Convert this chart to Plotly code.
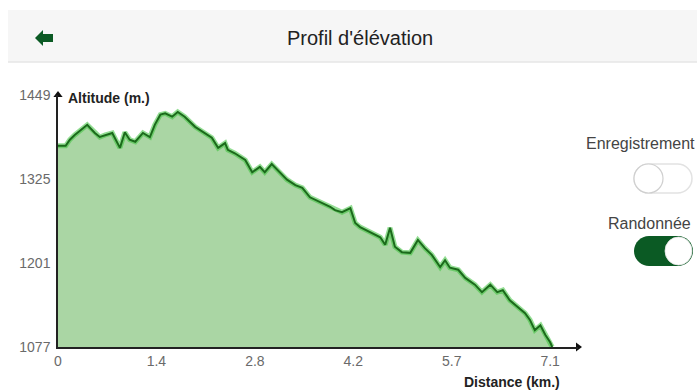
import plotly.graph_objects as go

# Elevation profile of the hike (distance in km, altitude in m)
distance_km = [
    0.00, 0.11, 0.17, 0.24, 0.42, 0.53, 0.60, 0.68, 0.78, 0.89,
    0.96, 1.03, 1.11, 1.22, 1.32, 1.39, 1.47, 1.54, 1.64, 1.72,
    1.82, 1.97, 2.11, 2.21, 2.30, 2.40, 2.44, 2.54, 2.69, 2.79,
    2.90, 2.97, 3.07, 3.19, 3.29, 3.41, 3.51, 3.62, 3.76, 3.91,
    3.98, 4.08, 4.20, 4.27, 4.34, 4.48, 4.63, 4.70, 4.77, 4.84,
    4.94, 5.06, 5.17, 5.27, 5.37, 5.49, 5.56, 5.63, 5.75, 5.85,
    5.99, 6.09, 6.21, 6.31, 6.39, 6.49, 6.61, 6.71, 6.78, 6.85,
    6.93, 7.00, 7.07, 7.10,
]
altitude_m = [
    1374, 1374, 1383, 1390, 1405, 1393, 1387, 1390, 1393, 1371,
    1394, 1383, 1380, 1393, 1387, 1405, 1420, 1422, 1417, 1424,
    1417, 1402, 1393, 1386, 1371, 1378, 1368, 1363, 1353, 1335,
    1343, 1335, 1347, 1335, 1324, 1316, 1312, 1298, 1291, 1284,
    1279, 1276, 1282, 1260, 1254, 1247, 1239, 1228, 1253, 1225,
    1217, 1216, 1235, 1223, 1213, 1195, 1205, 1194, 1191, 1179,
    1169, 1158, 1169, 1158, 1161, 1146, 1136, 1127, 1117, 1102,
    1109, 1095, 1084, 1077,
]

total_km = 7.07
x_tick_labels = ["0", "1.4", "2.8", "4.2", "5.7", "7.1"]
y_tick_values = [1077, 1201, 1325, 1449]
y_tick_labels = ["1077", "1201", "1325", "1449"]

X_MAX = 7.47  # axis extends a little past the end of the trace (arrow)
Y_MIN, Y_MAX = 1077, 1449

W, H = 697, 390
ML, MR, MT, MB = 58, 119, 95, 43
PW, PH = W - ML - MR, H - MT - MB

FONT = "Liberation Sans, Arial, Helvetica, sans-serif"
GREEN_DARK = "#0b5a24"


def px(x):
    return (x - ML) / PW


def py(y):
    return (H - MB - y) / PH


def pill_path(x0, y0, x1, y1):
    r = (y1 - y0) / 2
    k = 0.5523 * r
    cy = (y0 + y1) / 2
    pts = [
        ("M", [(x0 + r, y0)]),
        ("L", [(x1 - r, y0)]),
        ("C", [(x1 - r + k, y0), (x1, cy - k), (x1, cy)]),
        ("C", [(x1, cy + k), (x1 - r + k, y1), (x1 - r, y1)]),
        ("L", [(x0 + r, y1)]),
        ("C", [(x0 + r - k, y1), (x0, cy + k), (x0, cy)]),
        ("C", [(x0, cy - k), (x0 + r - k, y0), (x0 + r, y0)]),
    ]
    s = ""
    for cmd, ps in pts:
        s += cmd + " " + " ".join(f"{px(a):.5f},{py(b):.5f}" for a, b in ps) + " "
    return s + "Z"


fig = go.Figure()

# filled area under the profile
fig.add_trace(go.Scatter(
    x=distance_km, y=altitude_m, mode="lines", fill="tozeroy",
    fillcolor="#aad6a4", line=dict(width=0), hoverinfo="skip", showlegend=False,
))
# glow + dark core of the profile line
fig.add_trace(go.Scatter(
    x=distance_km, y=altitude_m, mode="lines",
    line=dict(color="rgba(60,195,60,0.55)", width=5), hoverinfo="skip", showlegend=False,
))
fig.add_trace(go.Scatter(
    x=distance_km, y=altitude_m, mode="lines",
    line=dict(color="#1b6a1b", width=2), showlegend=False,
))
# axis arrowheads
fig.add_trace(go.Scatter(
    x=[0], y=[Y_MAX], mode="markers", cliponaxis=False,
    marker=dict(symbol="triangle-up", size=8, color="#111"), hoverinfo="skip", showlegend=False,
))
fig.add_trace(go.Scatter(
    x=[X_MAX], y=[Y_MIN], mode="markers", cliponaxis=False,
    marker=dict(symbol="triangle-right", size=8, color="#111"), hoverinfo="skip", showlegend=False,
))

shapes = [
    # header bar
    dict(type="rect", xref="paper", yref="paper",
         x0=px(8), x1=px(697), y0=py(62), y1=py(10),
         fillcolor="#f6f6f6", line=dict(width=0), layer="below"),
    dict(type="line", xref="paper", yref="paper",
         x0=px(8), x1=px(697), y0=py(62), y1=py(62),
         line=dict(color="#e6e6e6", width=1.5)),
    # back arrow
    dict(type="path", xref="paper", yref="paper",
         path=(f"M {px(35)},{py(38)} L {px(43)},{py(30)} L {px(43)},{py(34)} "
               f"L {px(53)},{py(34)} L {px(53)},{py(42)} L {px(43)},{py(42)} "
               f"L {px(43)},{py(46)} Z"),
         fillcolor=GREEN_DARK, line=dict(width=0)),
    # toggle "Enregistrement" (off)
    dict(type="path", xref="paper", yref="paper", path=pill_path(634, 164, 692, 193),
         fillcolor="#ffffff", line=dict(color="#e2e2e2", width=1.5)),
    dict(type="circle", xref="paper", yref="paper",
         x0=px(634), x1=px(663), y0=py(193), y1=py(164),
         fillcolor="#ffffff", line=dict(color="#cfcfcf", width=1.2)),
    # toggle "Randonnée" (on)
    dict(type="path", xref="paper", yref="paper", path=pill_path(634, 236, 693, 266),
         fillcolor=GREEN_DARK, line=dict(width=0)),
    dict(type="circle", xref="paper", yref="paper",
         x0=px(665), x1=px(692), y0=py(265), y1=py(237),
         fillcolor="#ffffff", line=dict(color="#e8e8e8", width=0.8)),
]

annotations = [
    dict(text="Profil d'élévation", x=px(360), y=py(38), xref="paper", yref="paper",
         xanchor="center", yanchor="middle", showarrow=False,
         font=dict(family=FONT, size=20, color="#222")),
    dict(text="Altitude (m.)", x=px(66), y=py(98), xref="paper", yref="paper",
         xanchor="left", yanchor="middle", showarrow=False,
         font=dict(family=FONT, size=14, color="#222", weight="bold")),
    dict(text="Distance (km.)", x=px(562), y=py(382), xref="paper", yref="paper",
         xanchor="right", yanchor="middle", showarrow=False,
         font=dict(family=FONT, size=14, color="#222", weight="bold")),
    dict(text="Enregistrement", x=px(697), y=py(143), xref="paper", yref="paper",
         xanchor="right", yanchor="middle", showarrow=False,
         font=dict(family=FONT, size=16, color="#444")),
    dict(text="Randonnée", x=px(693), y=py(223), xref="paper", yref="paper",
         xanchor="right", yanchor="middle", showarrow=False,
         font=dict(family=FONT, size=16, color="#444")),
]

fig.update_layout(
    width=W, height=H, autosize=False,
    margin=dict(l=ML, r=MR, t=MT, b=MB, pad=0),
    paper_bgcolor="#ffffff", plot_bgcolor="#ffffff",
    shapes=shapes, annotations=annotations,
    xaxis=dict(
        range=[0, X_MAX], showgrid=False, zeroline=False,
        showline=True, linecolor="#222", linewidth=1.5,
        tickvals=[total_km * i / 5 for i in range(6)], ticktext=x_tick_labels,
        ticks="", tickfont=dict(family=FONT, size=14, color="#6a6a6a"),
    ),
    yaxis=dict(
        range=[Y_MIN, Y_MAX], showgrid=False, zeroline=False,
        showline=True, linecolor="#222", linewidth=1.5,
        tickvals=y_tick_values, ticktext=y_tick_labels, ticklabelstandoff=3,
        ticks="", tickfont=dict(family=FONT, size=14, color="#6a6a6a"),
    ),
)

fig.write_html("out.html")
